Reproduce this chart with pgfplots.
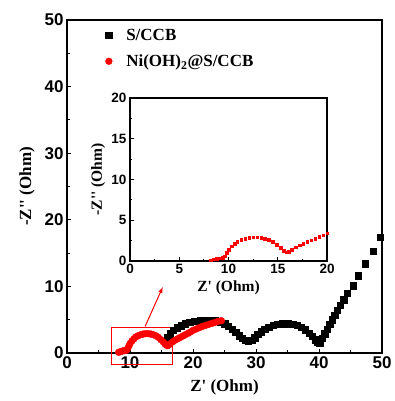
\documentclass[border=0pt]{standalone}
\usepackage{pgfplots}
\pgfplotsset{compat=1.18}
\usepackage{fontspec}
\setmainfont{Liberation Serif}
\newfontfamily\arialb{Liberation Sans}
\begin{document}
\begin{tikzpicture}
\pgfplotstableread{
x y
15.7 1.5
16.0 2.3
16.4 2.9
16.9 3.4
17.5 3.8
18.1 4.1
18.8 4.4
19.5 4.6
20.3 4.75
21.1 4.85
21.9 4.9
22.7 4.9
23.5 4.85
24.3 4.7
25.0 4.4
25.6 4.0
26.2 3.6
26.8 3.1
27.3 2.6
27.8 2.2
28.3 1.9
28.8 1.75
29.3 1.9
29.8 2.3
30.3 2.8
30.8 3.2
31.4 3.6
32.0 3.9
32.7 4.15
33.4 4.3
34.2 4.4
35.0 4.4
35.8 4.35
36.5 4.2
37.2 3.9
37.8 3.5
38.4 3.0
38.9 2.5
39.4 2.0
39.8 1.6
40.1 1.5
40.5 2.2
40.9 2.9
41.3 3.6
41.7 4.3
42.1 5.0
42.5 5.7
42.9 6.4
43.4 7.2
43.9 8.0
44.5 9.0
45.4 10.1
46.2 11.6
47.3 13.4
48.6 15.3
49.7 17.4
}\sccb
\pgfplotstableread{
x y
8.2 0.1
8.5 0.2
8.8 0.3
9.1 0.35
9.4 0.4
9.6 0.6
9.8 1.0
10.0 1.4
10.3 1.8
10.6 2.1
10.9 2.4
11.3 2.6
11.7 2.75
12.1 2.85
12.5 2.9
12.9 2.9
13.3 2.85
13.7 2.75
14.1 2.6
14.5 2.35
14.9 2.0
15.3 1.65
15.6 1.3
15.9 1.1
16.1 1.15
16.4 1.4
16.8 1.7
17.2 1.95
17.6 2.15
18.0 2.35
18.4 2.55
18.8 2.75
19.2 2.95
19.6 3.15
20.0 3.4
20.5 3.6
21.0 3.8
21.5 4.0
22.0 4.15
22.5 4.3
23.0 4.45
23.5 4.6
24.0 4.75
24.5 4.85
}\nioh
\begin{axis}[
  scale only axis, width=315pt, height=333pt,
  xmin=0, xmax=50, ymin=0, ymax=50,
  xtick={0,10,...,50}, ytick={0,10,...,50},
  minor x tick num=1, minor y tick num=1,
  tick align=inside, xtick pos=bottom, ytick pos=left,
  major tick length=4pt, minor tick length=2.5pt,
  axis line style={line width=1.3pt}, every tick/.style={line width=1pt, black},
  tick label style={font=\arialb\bfseries\fontsize{17}{17}\selectfont},
  /pgf/number format/assume math mode=true,
  xlabel={\bfseries Z\textquotesingle\ (Ohm)},
  ylabel={\bfseries -Z\textquotesingle\textquotesingle\ (Ohm)},
  label style={font=\bfseries\fontsize{17}{17}\selectfont},
  xlabel style={at={(axis description cs:0.5,-0.102)}, anchor=center},
  ylabel style={at={(axis description cs:-0.127,0.5)}, anchor=center},
  clip=false,
  legend style={draw=none, fill=none, at={(0.112,0.986)}, anchor=north west,
    font=\bfseries\fontsize{17}{17}\selectfont, row sep=9pt, column sep=12pt},
  legend cell align=left,
]
\path (rel axis cs:0,0) ++(-67pt,-48pt) coordinate (bbsw);
\path (rel axis cs:1,1) ++(10pt,20pt) coordinate (bbne);
\addplot[only marks, mark=square*, mark size=3.2pt, black] table {\sccb};
\addlegendentry{S/CCB}
\addplot[only marks, mark=*, mark size=3.4pt, red] table {\nioh};
\addlegendentry{Ni(OH)\textsubscript{2}@S/CCB}
\draw[red, line width=1pt] (axis cs:7.0,-1.8) rectangle (axis cs:16.7,3.9);
\draw[red, line width=1pt, -{latex}] (axis cs:12.4,4.0) -- (axis cs:15.2,9.9);
\end{axis}
\begin{axis}[
  at={(63pt,92pt)}, anchor=south west,
  scale only axis, width=197pt, height=163pt,
  xmin=0, xmax=20, ymin=0, ymax=20,
  xtick={0,5,...,20}, ytick={0,5,...,20},
  minor x tick num=1, minor y tick num=1,
  tick align=inside, xtick pos=bottom, ytick pos=left,
  major tick length=3.5pt, minor tick length=2pt,
  axis line style={line width=1.1pt}, every tick/.style={line width=0.9pt, black},
  tick label style={font=\arialb\bfseries\fontsize{13.5}{13.5}\selectfont},
  /pgf/number format/assume math mode=true,
  xlabel={\bfseries Z\textquotesingle\ (Ohm)},
  ylabel={\bfseries -Z\textquotesingle\textquotesingle\ (Ohm)},
  label style={font=\bfseries\fontsize{15.5}{15.5}\selectfont},
  xlabel style={at={(axis description cs:0.5,-0.165)}, anchor=center},
  ylabel style={at={(axis description cs:-0.162,0.5)}, anchor=center},
  axis background/.style={fill=white},
]
\addplot[only marks, mark=square*, mark size=1.3pt, red] table {\nioh};
\end{axis}
\end{tikzpicture}
\end{document}
